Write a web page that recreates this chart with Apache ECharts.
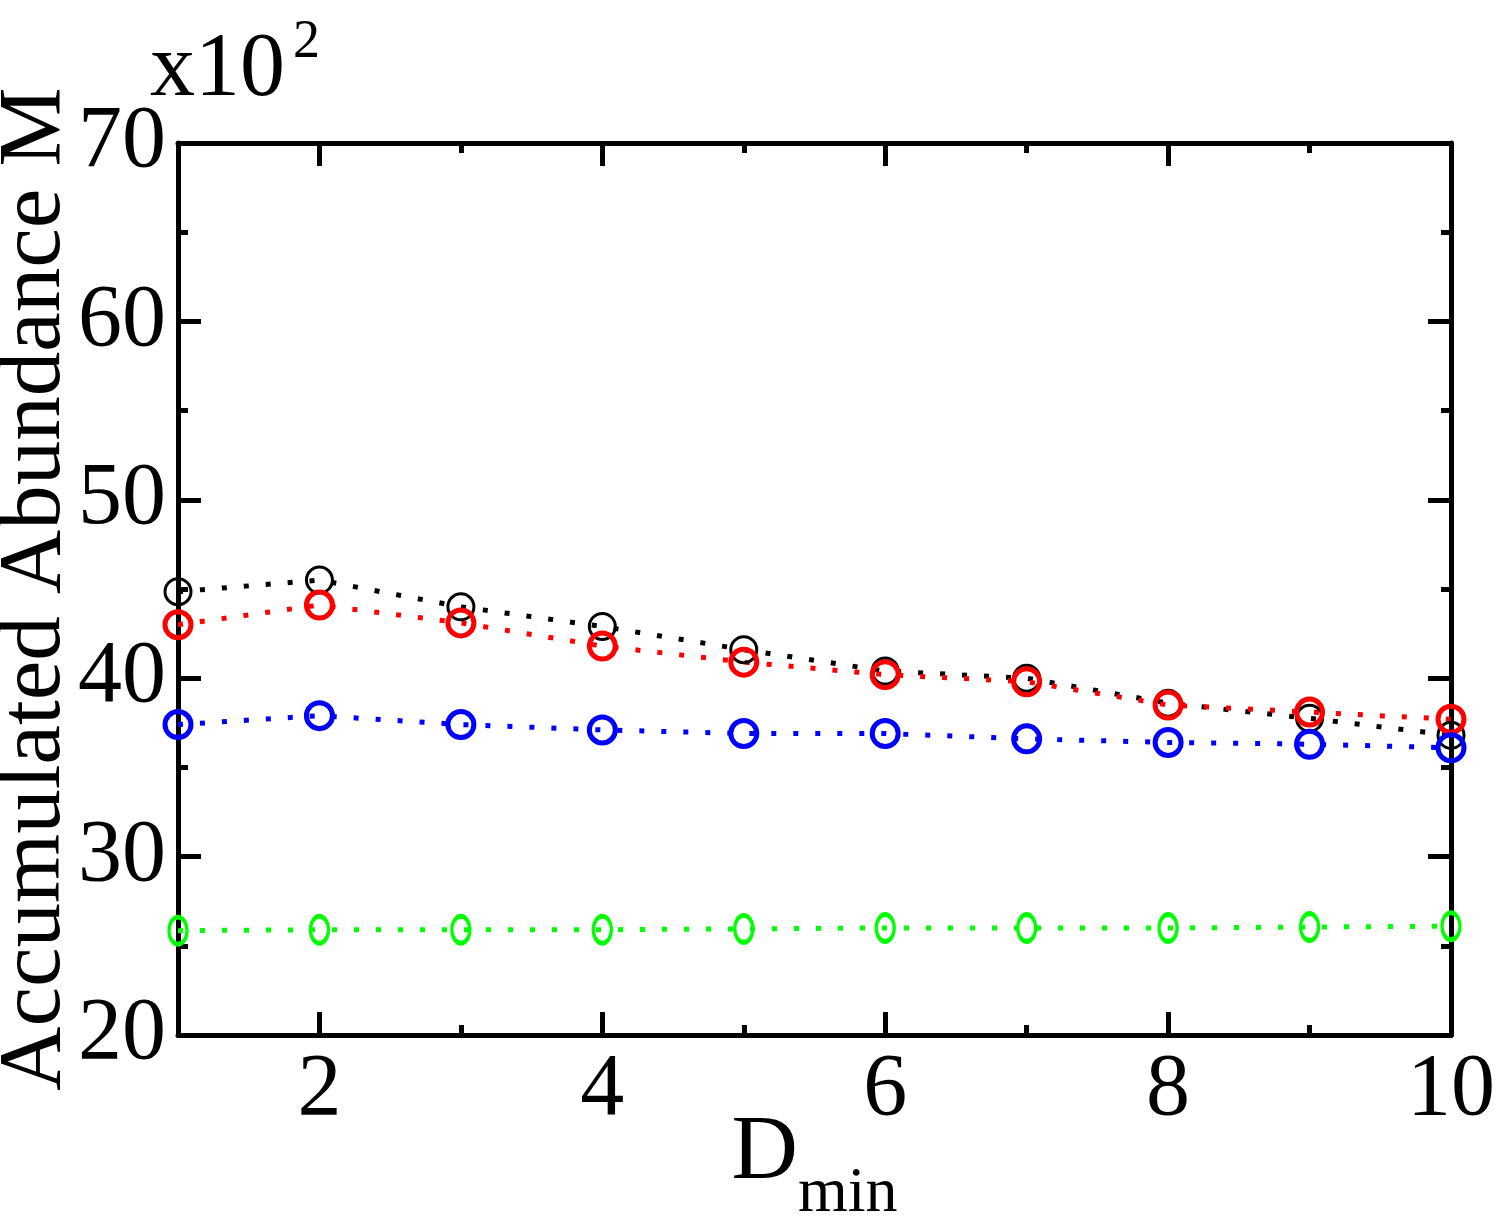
<!DOCTYPE html>
<html>
<head>
<meta charset="utf-8">
<script src="https://cdn.jsdelivr.net/npm/echarts@6/dist/echarts.min.js"></script>
<style>
html,body{margin:0;padding:0;background:#fff;}
#chart{width:1498px;height:1221px;}
</style>
</head>
<body>
<div id="chart"></div>
<script>
// ---- data (y in units of 10^2) ----
var dmin = [1, 2, 3, 4, 5, 6, 7, 8, 9, 10];
var blackSeries = [44.85, 45.5, 44.0, 42.9, 41.6, 40.4, 40.0, 38.6, 37.75, 36.8];
var redSeries   = [43.0, 44.1, 43.1, 41.8, 40.9, 40.2, 39.8, 38.5, 38.1, 37.7];
var blueSeries  = [37.4, 37.9, 37.4, 37.1, 36.9, 36.9, 36.6, 36.4, 36.3, 36.1];
var greenSeries = [25.85, 25.9, 25.9, 25.9, 25.95, 26.0, 26.0, 26.0, 26.05, 26.1];
var xTickLabels = [2, 4, 6, 8, 10];
var yTickLabels = [20, 30, 40, 50, 60, 70];

var FONT = '"Liberation Serif", "Times New Roman", serif';

function pairs(ys) { return dmin.map(function (x, i) { return [x, ys[i]]; }); }

function xAxisDef(pos, major, showLine, showLabel) {
  return {
    type: 'value', position: pos, min: 1, max: 10, interval: 1,
    gridIndex: 0,
    axisLine: { show: showLine, onZero: false, lineStyle: { color: '#000', width: 5 } },
    axisTick: major
      ? { show: true, inside: true, length: 23, customValues: xTickLabels, lineStyle: { color: '#000', width: 5 } }
      : { show: true, inside: true, length: 10, lineStyle: { color: '#000', width: 5 } },
    axisLabel: showLabel
      ? { show: true, customValues: xTickLabels, color: '#000', fontFamily: FONT, fontSize: 88, margin: 12 }
      : { show: false },
    splitLine: { show: false }
  };
}

function yAxisDef(pos, showLabel) {
  return {
    type: 'value', position: pos, min: 20, max: 70, interval: 10,
    axisLine: { show: true, onZero: false, lineStyle: { color: '#000', width: 5 } },
    axisTick: { show: true, inside: true, length: 23, lineStyle: { color: '#000', width: 5 } },
    minorTick: { show: true, splitNumber: 2, length: 10, lineStyle: { color: '#000', width: 5 } },
    axisLabel: showLabel
      ? { show: true, color: '#000', fontFamily: FONT, fontSize: 88, margin: 12,
          formatter: function (v) { return yTickLabels.indexOf(v) >= 0 ? String(v) : ''; } }
      : { show: false },
    splitLine: { show: false }
  };
}

var xAxes = [
  xAxisDef('bottom', false, true, true),
  xAxisDef('bottom', true, false, false),
  xAxisDef('top', false, true, false),
  xAxisDef('top', true, false, false)
];
xAxes[0].name = '{d|D}{s|min}';
xAxes[0].nameLocation = 'middle';
xAxes[0].nameGap = 73;
xAxes[0].nameMoveOverlap = false;
xAxes[0].nameTextStyle = {
  color: '#000', fontFamily: FONT,
  rich: {
    d: { fontSize: 92, fontFamily: FONT, color: '#000', verticalAlign: 'bottom', padding: [0, 0, 26, 0] },
    s: { fontSize: 64, fontFamily: FONT, color: '#000', verticalAlign: 'bottom' }
  }
};

var yAxes = [yAxisDef('left', true), yAxisDef('right', false)];
yAxes[0].name = 'Accumulated Abundance M';
yAxes[0].nameLocation = 'middle';
yAxes[0].nameRotate = 90;
yAxes[0].nameGap = 98;
yAxes[0].nameMoveOverlap = false;
yAxes[0].nameTextStyle = { color: '#000', fontFamily: FONT, fontSize: 89 };

function lineSeries(name, data, color, size, bw) {
  return {
    name: name, type: 'line', xAxisIndex: 0, yAxisIndex: 0,
    data: pairs(data),
    symbol: 'circle', symbolSize: size,
    itemStyle: { color: 'rgba(0,0,0,0)', borderColor: color, borderWidth: bw },
    lineStyle: { color: color, width: 5, type: [5, 17], cap: 'butt' },
    emphasis: { disabled: true },
    animation: false,
    clip: false
  };
}

var chart = echarts.init(document.getElementById('chart'), null, { renderer: 'canvas' });
chart.setOption({
  backgroundColor: '#fff',
  animation: false,
  grid: { left: 178, right: 47, top: 143, bottom: 186, containLabel: false, outerBoundsMode: 'none' },
  xAxis: xAxes,
  yAxis: yAxes,
  graphic: [{
    type: 'text', left: 150, top: 16,
    style: {
      text: '{a|x10}{b|2}',
      rich: {
        a: { fontSize: 90, fontFamily: FONT, fill: '#000', verticalAlign: 'bottom' },
        b: { fontSize: 54, fontFamily: FONT, fill: '#000', verticalAlign: 'bottom', padding: [0, 0, 46, 8] }
      }
    }
  }],
  series: [
    lineSeries('black', blackSeries, '#000000', 26, 3),
    lineSeries('red', redSeries, '#ff0000', 26, 5),
    lineSeries('blue', blueSeries, '#0000ff', 26, 5),
    lineSeries('green', greenSeries, '#00ff00', [18, 27], 4)
  ]
});
</script>
</body>
</html>
